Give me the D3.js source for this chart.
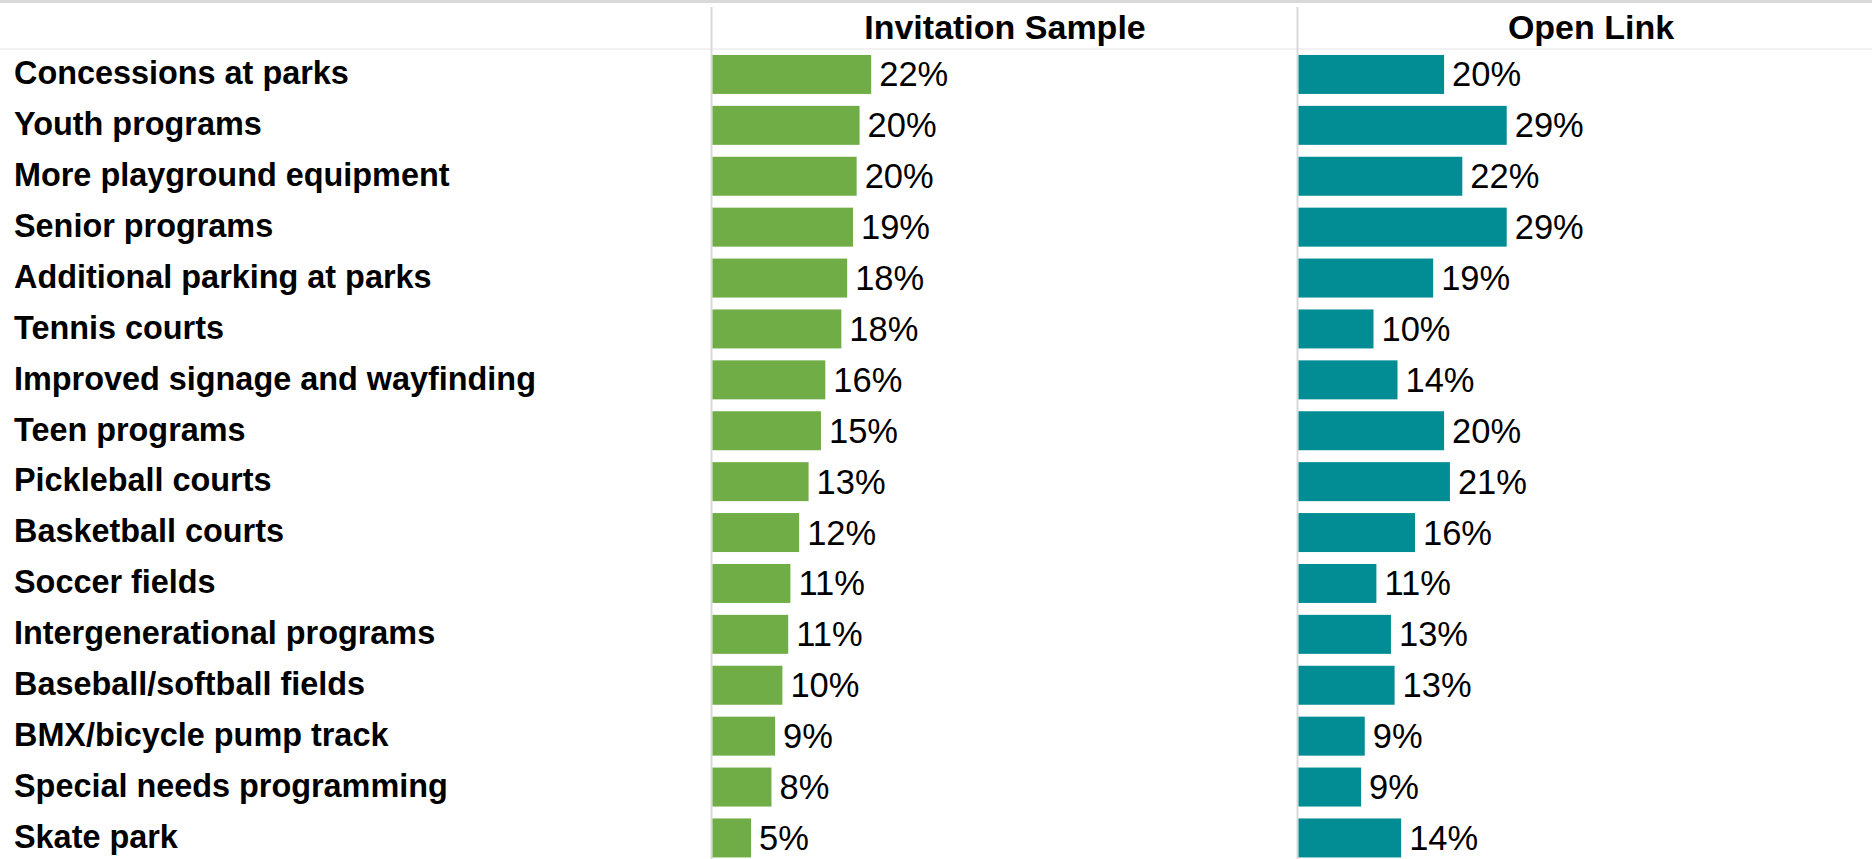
<!DOCTYPE html>
<html>
<head>
<meta charset="utf-8">
<script src="https://cdn.jsdelivr.net/npm/d3@7"></script>
<style>
  html, body { margin: 0; padding: 0; background: #ffffff; }
  svg { display: block; }
</style>
</head>
<body>
<div id="chart"></div>
<script>
const categories = [
  "Concessions at parks",
  "Youth programs",
  "More playground equipment",
  "Senior programs",
  "Additional parking at parks",
  "Tennis courts",
  "Improved signage and wayfinding",
  "Teen programs",
  "Pickleball courts",
  "Basketball courts",
  "Soccer fields",
  "Intergenerational programs",
  "Baseball/softball fields",
  "BMX/bicycle pump track",
  "Special needs programming",
  "Skate park"
];
const seriesNames = ["Invitation Sample", "Open Link"];
const invitationValues = [21.8, 20.2, 19.8, 19.3, 18.5, 17.7, 15.5, 14.9, 13.2, 11.9, 10.7, 10.4, 9.6, 8.6, 8.1, 5.3];
const invitationLabels = ["22%", "20%", "20%", "19%", "18%", "18%", "16%", "15%", "13%", "12%", "11%", "11%", "10%", "9%", "8%", "5%"];
const openLinkValues = [20.0, 28.6, 22.5, 28.6, 18.5, 10.3, 13.6, 20.0, 20.8, 16.0, 10.7, 12.7, 13.2, 9.1, 8.6, 14.1];
const openLinkLabels = ["20%", "29%", "22%", "29%", "19%", "10%", "14%", "20%", "21%", "16%", "11%", "13%", "13%", "9%", "9%", "14%"];
const seriesColors = ["#70AD47", "#028C93"];

const W = 1872, H = 859;
const svg = d3.select("#chart").append("svg").attr("width", W).attr("height", H);

const panelX = [712, 1298];
const panelW = 586;
const headerLineY = 49;

const y = d3.scaleBand()
  .domain(categories)
  .range([headerLineY, headerLineY + 16 * 50.9])
  .paddingInner(0.234)
  .paddingOuter(0.117);

const x = d3.scaleLinear().domain([0, 100]).range([0, 728]);

// top gray rule
svg.append("rect").attr("x", 0).attr("y", 0).attr("width", W).attr("height", 3).attr("fill", "#d9d9d9");
// header bottom rule
svg.append("line").attr("x1", 0).attr("x2", W).attr("y1", headerLineY).attr("y2", headerLineY)
  .attr("stroke", "#f2f2f2").attr("stroke-width", 2);

// vertical separators
panelX.forEach(px => {
  svg.append("line").attr("x1", px - 0.5).attr("x2", px - 0.5).attr("y1", 7).attr("y2", H)
    .attr("stroke", "#d9d9d9").attr("stroke-width", 2);
});

// headers
seriesNames.forEach((name, i) => {
  svg.append("text")
    .attr("x", panelX[i] + panelW / 2)
    .attr("y", 39)
    .attr("text-anchor", "middle")
    .attr("font-family", "'Liberation Sans', Arial, sans-serif")
    .attr("font-weight", "bold")
    .attr("font-size", 34)
    .attr("fill", "#000")
    .text(name);
});

// category labels
svg.append("g").selectAll("text")
  .data(categories)
  .join("text")
  .attr("x", 14)
  .attr("y", d => y(d) + y.bandwidth() / 2 + 9.8)
  .attr("font-family", "'Liberation Sans', Arial, sans-serif")
  .attr("font-weight", "bold")
  .attr("font-size", 32.4)
  .attr("fill", "#000")
  .text(d => d);

const series = [
  { values: invitationValues, labels: invitationLabels },
  { values: openLinkValues, labels: openLinkLabels }
];

series.forEach((s, si) => {
  const g = svg.append("g").attr("transform", `translate(${panelX[si] + 0.5},0)`);
  const rows = categories.map((c, i) => ({ c, v: s.values[i], l: s.labels[i] }));
  g.selectAll("rect")
    .data(rows)
    .join("rect")
    .attr("x", x(0))
    .attr("y", d => y(d.c))
    .attr("width", d => x(d.v))
    .attr("height", y.bandwidth())
    .attr("fill", seriesColors[si]);
  g.selectAll("text")
    .data(rows)
    .join("text")
    .attr("x", d => x(d.v) + 8)
    .attr("y", d => y(d.c) + y.bandwidth() / 2 + 12)
    .attr("font-family", "'Liberation Sans', Arial, sans-serif")
    .attr("font-size", 34.5)
    .attr("fill", "#000")
    .text(d => d.l);
});
</script>
</body>
</html>
